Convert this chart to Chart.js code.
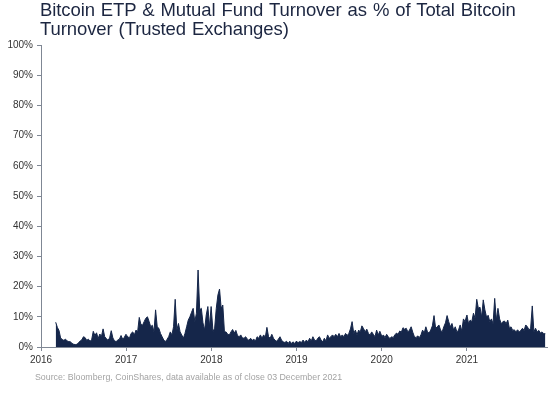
<!DOCTYPE html>
<html>
<head>
<meta charset="utf-8">
<script src="https://cdn.jsdelivr.net/npm/chart.js@4.4.0/dist/chart.umd.min.js"></script>
<style>
  html, body { margin: 0; padding: 0; background: #fff; }
  #wrap { position: relative; width: 550px; height: 404px; font-family: "Liberation Sans", Arial, sans-serif; }
  #chart { position: absolute; left: 0; top: 0; }
  #title { position: absolute; left: 40px; top: 0px; font-size: 18.5px; line-height: 19px; color: #1c2641; letter-spacing: -0.1px; word-spacing: 1px; }
  #source { position: absolute; left: 35px; top: 372px; font-size: 8.8px; color: #a3a3a3; }
</style>
</head>
<body>
<div id="wrap">
  <canvas id="chart" width="550" height="404"></canvas>
  <div id="title">Bitcoin ETP &amp; Mutual Fund Turnover as % of Total Bitcoin<br>Turnover (Trusted Exchanges)</div>
  <div id="source">Source: Bloomberg, CoinShares, data available as of close 03 December 2021</div>
</div>
<script>
// weekly readings (% of total turnover), one array per calendar year
const vals2016 = [8.2, 6.5, 5.5, 3.0, 2.5, 2.2, 2.6, 2.0, 1.8, 1.7, 1.2, 0.9, 0.8, 0.9, 1.4, 2.0, 2.4, 3.4, 3.1, 2.2, 2.6, 1.9, 2.4, 5.2, 3.8, 4.7, 2.8, 4.3, 3.5, 6.0, 3.4, 2.8, 2.2, 3.0, 5.4, 3.0, 2.0, 1.8, 2.3, 2.6, 3.8, 2.6, 3.2, 4.2];
const vals2017 = [4, 3.5, 2.9, 4.5, 5, 4, 5.6, 5, 9.8, 7.5, 7.2, 8.4, 9.5, 10, 8.5, 6.7, 7.2, 5, 12.3, 6.7, 6.2, 4.5, 3.4, 2.3, 1.8, 2.5, 3.4, 5, 4, 6.7, 15.8, 5.6, 7.8, 5, 4, 2.9, 4.5, 6.7, 8.9, 10, 11.5, 12.8, 8.4, 11.2, 25.5, 12.3, 12.8, 8, 5.6, 10.6, 13.4, 6.7, 13.4];
const vals2018 = [13.4, 5.1, 6.2, 12.8, 17.2, 19.2, 12.8, 13.9, 5, 5, 4.2, 4, 5, 5.8, 4.6, 5.5, 3.8, 3.4, 4, 3, 2.9, 3.4, 2.6, 2.2, 2.9, 2.2, 2.6, 2, 3.4, 2.9, 4, 2.9, 4, 3.2, 6.5, 3.4, 2.9, 4.2, 2.9, 2.2, 1.9, 2.6, 3.4, 2.2, 1.7, 1.5, 1.9, 1.2, 1.9, 1.2, 1.7, 1.2, 1.9];
const vals2019 = [1.7, 1.5, 1.8, 1.5, 2.3, 1.5, 2.3, 1.7, 2.9, 2, 3.4, 2.3, 2, 2.9, 3.4, 2.3, 1.7, 2.9, 2, 4, 2.9, 3.4, 4, 3.4, 4.2, 3.4, 4.5, 3.4, 4, 3.4, 4.5, 3.8, 4.5, 6, 8.4, 4.5, 5.6, 4, 5.6, 5, 7, 6.1, 5, 5.9, 4.5, 4, 5, 4.2, 3.4, 5.6, 4, 5.2, 3.8];
const vals2020 = [3.4, 4, 3.1, 4.2, 3.4, 2.8, 3.4, 3.1, 4, 4.6, 4.2, 5.3, 4.9, 6.4, 5.9, 6.2, 5, 5.6, 6.7, 4.9, 3.4, 3.1, 3.7, 3.1, 4, 5.6, 4.6, 6.7, 5, 4.6, 5.6, 7, 10.4, 6.2, 6.7, 7.3, 5.6, 5, 6.7, 8, 10.4, 8.4, 6.7, 7.8, 5.6, 6.7, 5, 5.6, 7.3, 5.3, 9.3, 8.4, 10.4];
const vals2021 = [10.6, 7.7, 8.9, 8.4, 11.2, 9.5, 15.8, 12.8, 13.2, 9.9, 15.6, 12.3, 9.9, 10.5, 8.4, 9.3, 7.7, 16.1, 8.9, 12.8, 9.3, 7.7, 8.4, 8.6, 7.7, 8.9, 6.2, 6.7, 5.5, 5.7, 5, 5.7, 5, 5.5, 6.2, 5.5, 7.3, 6.7, 5.7, 6.2, 13.6, 5, 6.2, 5, 5.5, 4.6, 5, 4.4, 4.4];

const yearTicks = [2016, 2017, 2018, 2019, 2020, 2021];
const yTicks = [0, 10, 20, 30, 40, 50, 60, 70, 80, 90, 100];

// series starts early March 2016 (day 63), others start 1 Jan
function weekly(year, startDay, vals) {
    return vals.map(function (v, i) {
        return { x: year + (startDay + 7 * i) / 365, y: v };
    });
}

const points = [].concat(
    weekly(2016, 63, vals2016),
    weekly(2017, 0, vals2017),
    weekly(2018, 0, vals2018),
    weekly(2019, 0, vals2019),
    weekly(2020, 0, vals2020),
    weekly(2021, 0, vals2021)
);

const navy = "#15264a";
const axisColor = "#7f8794";
const tickFont = { family: "Liberation Sans, Arial, sans-serif", size: 10 };

new Chart(document.getElementById("chart").getContext("2d"), {
    type: "line",
    data: {
        datasets: [{
            data: points,
            borderColor: navy,
            backgroundColor: navy,
            borderWidth: 1,
            pointRadius: 0,
            fill: "origin",
            tension: 0
        }]
    },
    options: {
        responsive: false,
        animation: false,
        devicePixelRatio: 1,
        layout: { padding: { left: 0, top: 45, right: 3, bottom: 0 } },
        plugins: { legend: { display: false }, tooltip: { enabled: false } },
        scales: {
            x: {
                type: "linear",
                min: 2016,
                max: 2021.94,
                afterBuildTicks: function (scale) {
                    scale.ticks = yearTicks.map(function (v) { return { value: v }; });
                },
                afterFit: function (scale) { scale.height = 57; },
                ticks: {
                    color: "#333",
                    font: tickFont,
                    padding: 3,
                    maxRotation: 0,
                    callback: function (v) { return String(v); }
                },
                grid: { drawOnChartArea: false, drawTicks: true, tickLength: 4, color: axisColor },
                border: { display: true, color: axisColor }
            },
            y: {
                min: 0,
                max: 100,
                afterBuildTicks: function (scale) {
                    scale.ticks = yTicks.map(function (v) { return { value: v }; });
                },
                afterFit: function (scale) { scale.width = 41; },
                ticks: {
                    color: "#333",
                    font: tickFont,
                    padding: 4,
                    callback: function (v) { return v + "%"; }
                },
                grid: { drawOnChartArea: false, drawTicks: true, tickLength: 4, color: axisColor },
                border: { display: true, color: axisColor }
            }
        }
    }
});
</script>
</body>
</html>
